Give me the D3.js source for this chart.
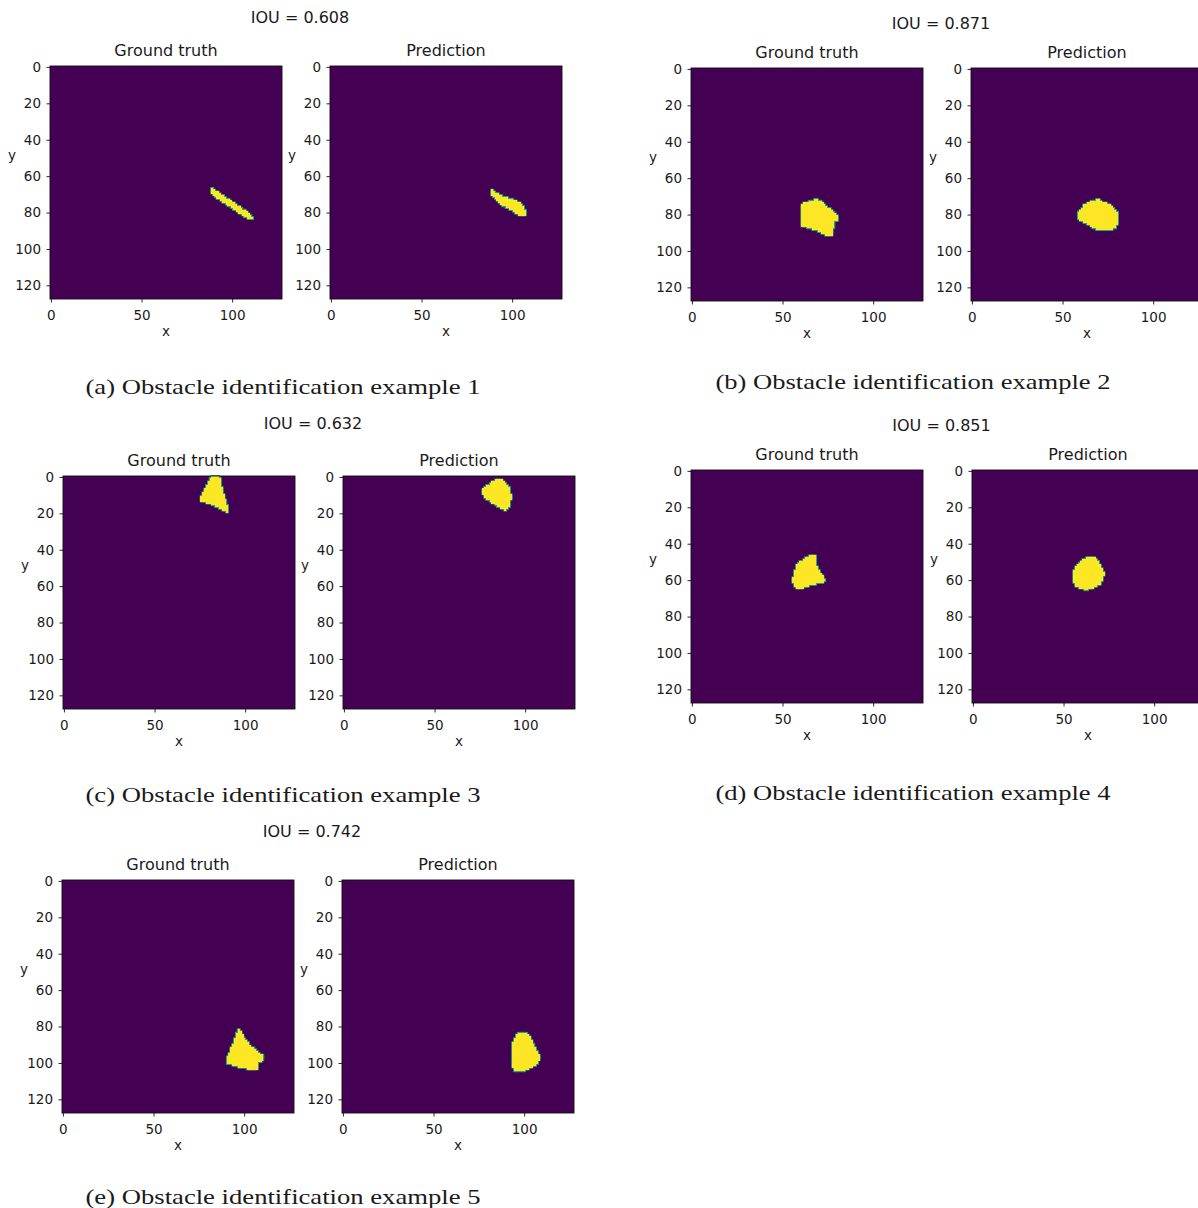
<!DOCTYPE html>
<html>
<head>
<meta charset="utf-8">
<script src="https://cdn.jsdelivr.net/npm/d3@7"></script>
<style>
  body { margin: 0; background: #fff; }
  text { font-family: "DejaVu Sans", sans-serif; fill: #1a1a1a; }
  .caption { font-family: "Liberation Serif", serif; }
</style>
</head>
<body>
<svg id="chart"></svg>
<script>
// ---------- data ----------
const gridSize = 128
const iouValues = [0.608, 0.871, 0.632, 0.851, 0.742]
const captions = [
  '(a) Obstacle identification example 1',
  '(b) Obstacle identification example 2',
  '(c) Obstacle identification example 3',
  '(d) Obstacle identification example 4',
  '(e) Obstacle identification example 5'
]
const subTitles = ['Ground truth', 'Prediction']
const xTicks = [0, 50, 100]
const yTicks = [0, 20, 40, 60, 80, 100, 120]

// mask outlines, in image pixel coords [x, y]
const truthMasks = [
  [[88.2,66.3],[90.6,68],[95.2,71],[100.7,74.6],[106.2,78.3],[110.9,81.8],[111.6,83.3],[110,83.8],[106,81.5],[100.5,78],[95,74.3],[90.5,71],[88.2,68]],
  [[61.2,74.3],[65.6,72.5],[68.9,71.7],[71.1,72.5],[73.5,74.8],[78.1,78.5],[79.5,79.4],[81.2,82.7],[79,84],[78.1,86.8],[77.2,91.9],[74.4,91.4],[68.9,88.6],[61.2,86.4],[60.1,85.9],[60.3,75.8]],
  [[81.6,-0.5],[85.8,-0.5],[86.6,3.5],[87.7,8.1],[89,12.7],[90.8,17.3],[90.4,19.2],[88,18.3],[84.4,16.4],[80.7,14.6],[77,13.6],[75.5,12.7],[76.1,10],[77.9,6.3],[79.7,2.6]],
  [[66.7,46],[68.1,46.6],[68.5,51.5],[70.3,55.2],[73.1,59.3],[73.6,60.7],[70.3,61.5],[64.8,63],[60.3,64.3],[58.4,65.2],[56.6,63.4],[55.7,60.7],[56.6,55.2],[58.4,51],[61.2,49.1],[63.9,47.3]],
  [[96.9,81.9],[98.2,83],[100.6,87],[103.3,90.7],[107,93.5],[111,96.6],[110.3,98.5],[107.9,99.9],[107,103.3],[102.4,103.3],[96,101.8],[90.4,99.9],[90.8,97.2],[92.3,93.5],[94.1,88.9],[95.6,84.2]]
]
const predMasks = [
  [[88.8,67.8],[91.5,69.4],[95.2,71.1],[99.8,72.9],[105.4,75.6],[108.1,79.8],[107.2,81.1],[104.4,81.5],[100.7,79.3],[94.3,75.6],[89.7,71.6],[88.6,69.4]],
  [[57.8,80.4],[59.7,77.6],[62.4,74.3],[65.2,73],[69.8,71.7],[71.7,73],[75.3,74.3],[78.1,76.7],[80.3,78.5],[80.3,84.9],[79,87.7],[77.2,88.2],[70.7,88.6],[68,87.7],[65.2,85.9],[61.5,84],[58.7,82.2]],
  [[85.7,1.1],[87.6,1.7],[90.4,4.4],[91.8,8.1],[92.2,11.8],[91.3,16.4],[89.4,18.3],[87.6,17.3],[83.9,15.5],[81.1,13.6],[78.3,11.8],[76.5,9],[76.5,7.2],[78.9,4.8],[82.1,2.6]],
  [[64.3,47.3],[67,47.8],[69.8,50.6],[71.6,54.2],[72.5,57],[71.6,58.8],[69.8,62.5],[66.1,64.3],[62.5,65.2],[59.7,64.8],[57,63.4],[55.1,60.7],[55.1,56.1],[57,52.4],[59.7,49.7],[62.5,47.8]],
  [[97.8,83],[100.6,83.3],[103.3,86.1],[105.1,89.8],[107,93.5],[108.5,96.2],[107.9,99],[106.1,101.4],[102.4,103.3],[98.7,104.5],[94.5,104.5],[93.2,99.9],[93.2,91.6],[94.5,87],[96,84.2]]
]

// ---------- layout ----------
const W = 1198, H = 1208
const axW = 232, axH = 233
const layout = [
  {gt: 50,  pred: 330, top: 66,  titleY: 17,  capX: 283, capY: 386},
  {gt: 691, pred: 971, top: 68,  titleY: 23,  capX: 913, capY: 381},
  {gt: 63,  pred: 343, top: 476, titleY: 423, capX: 283, capY: 794},
  {gt: 691, pred: 972, top: 470, titleY: 425, capX: 913, capY: 792},
  {gt: 62,  pred: 342, top: 880, titleY: 831, capX: 283, capY: 1196}
]

const purple = '#440154', yellow = '#fde725', edge = '#25a584'

const svg = d3.select('#chart').attr('width', W).attr('height', H)

// turn an outline into the list of pixels whose centre falls inside it
function rasterize(poly) {
  let cells = []
  for (let j = 0; j < gridSize; j++) {
    for (let i = 0; i < gridSize; i++) {
      if (d3.polygonContains(poly, [i, j])) cells.push([i, j])
    }
  }
  return cells
}

function drawImage(g, left, top, mask, title) {
  let x = d3.scaleLinear().domain([-0.5, gridSize - 0.5]).range([left, left + axW])
  let y = d3.scaleLinear().domain([-0.5, gridSize - 0.5]).range([top, top + axH])
  let cw = x(1) - x(0), ch = y(1) - y(0)

  g.append('rect')
    .attr('x', x(-0.5)).attr('y', y(-0.5))
    .attr('width', axW).attr('height', axH)
    .attr('fill', purple)

  let cells = rasterize(mask)
  let pad = 1.0
  g.append('g').selectAll('rect').data(cells).enter()
    .append('rect')
    .attr('x', d => x(d[0] - 0.5) - pad).attr('y', d => y(d[1] - 0.5) - pad)
    .attr('width', cw + 2 * pad).attr('height', ch + 2 * pad)
    .attr('fill', edge)
  g.append('g').attr('shape-rendering', 'crispEdges')
    .selectAll('rect').data(cells).enter()
    .append('rect')
    .attr('x', d => x(d[0] - 0.5) - 0.3).attr('y', d => y(d[1] - 0.5) - 0.3)
    .attr('width', cw + 0.6).attr('height', ch + 0.6)
    .attr('fill', yellow)

  g.append('rect')
    .attr('x', x(-0.5)).attr('y', y(-0.5))
    .attr('width', axW).attr('height', axH)
    .attr('fill', 'none').attr('stroke', '#111').attr('stroke-width', 0.9)

  let xAxis = g.append('g')
    .attr('transform', `translate(0,${top + axH})`)
    .call(d3.axisBottom(x).tickValues(xTicks).tickSize(3.5).tickPadding(8))
  let yAxis = g.append('g')
    .attr('transform', `translate(${left},0)`)
    .call(d3.axisLeft(y).tickValues(yTicks).tickSize(3.5).tickPadding(5.5))
  ;[xAxis, yAxis].forEach(a => {
    a.select('.domain').remove()
    a.selectAll('text').attr('font-size', 13.5).attr('font-family', null).attr('fill', '#1a1a1a')
    a.selectAll('line').attr('stroke', '#111').attr('stroke-width', 0.9)
  })

  g.append('text')
    .attr('x', left + axW / 2).attr('y', top - 16)
    .attr('text-anchor', 'middle').attr('dy', '0.35em')
    .attr('font-size', 16)
    .text(title)

  g.append('text')
    .attr('x', left + axW / 2).attr('y', top + axH + 32)
    .attr('text-anchor', 'middle').attr('dy', '0.35em')
    .attr('font-size', 13.5)
    .text('x')

  g.append('text')
    .attr('x', left - 38).attr('y', top + 89)
    .attr('text-anchor', 'middle').attr('dy', '0.35em')
    .attr('font-size', 13.5)
    .text('y')
}

layout.forEach((p, k) => {
  let g = svg.append('g').attr('class', 'panel')
  drawImage(g, p.gt, p.top, truthMasks[k], subTitles[0])
  drawImage(g, p.pred, p.top, predMasks[k], subTitles[1])

  g.append('text')
    .attr('x', (p.gt + p.pred + axW) / 2 - 6).attr('y', p.titleY)
    .attr('text-anchor', 'middle').attr('dy', '0.35em')
    .attr('font-size', 16)
    .text(`IOU = ${iouValues[k].toFixed(3)}`)

  g.append('text')
    .attr('class', 'caption')
    .attr('x', p.capX).attr('y', p.capY)
    .attr('text-anchor', 'middle').attr('dy', '0.35em')
    .attr('font-size', 22)
    .attr('textLength', 395).attr('lengthAdjust', 'spacingAndGlyphs')
    .text(captions[k])
})
</script>
</body>
</html>
